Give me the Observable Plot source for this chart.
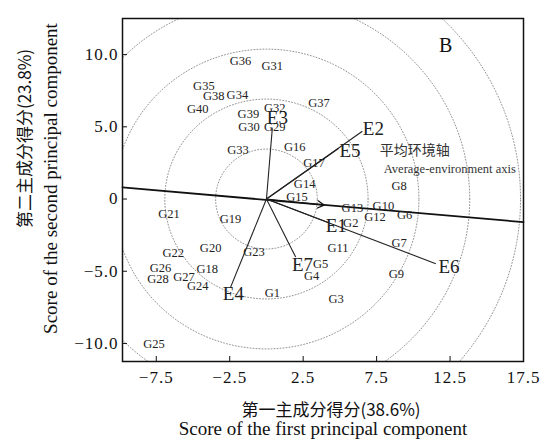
<!DOCTYPE html>
<html><head><meta charset="utf-8">
<script src="https://cdn.jsdelivr.net/npm/d3@7"></script>
<script src="https://cdn.jsdelivr.net/npm/@observablehq/plot@0.6"></script>
<style>
body{margin:0;background:#fff;}
#chart svg{display:block;}
g[aria-label="x-axis tick label"] text, g[aria-label="y-axis tick label"] text {letter-spacing:1px;}
g[aria-label="title-cn"] text {letter-spacing:2px;}
g[aria-label="title-en"] text {letter-spacing:1.2px;}
g[aria-label="axis-name-cn"] text {letter-spacing:1px;}
g[aria-label="axis-name-en"] text {letter-spacing:0.4px;}
</style></head><body><div id="chart"></div>
<script>
const genotypes = ["G1","G2","G3","G4","G5","G6","G7","G8","G9","G10",
  "G11","G12","G13","G14","G15","G16","G17","G18","G19","G20",
  "G21","G22","G23","G24","G25","G26","G27","G28","G29","G30",
  "G31","G32","G33","G34","G35","G36","G37","G38","G39","G40"];
const genoX = [0.40,5.74,4.75,3.08,3.69,9.41,9.03,9.03,8.85,7.96,
  4.87,7.39,5.85,2.60,2.08,1.92,3.24,-4.03,-2.44,-3.80,
  -6.64,-6.34,-0.85,-4.67,-7.66,-7.21,-5.62,-7.39,0.56,-1.19,
  0.40,0.56,-1.94,-1.98,-4.26,-1.76,3.58,-3.58,-1.23,-4.67];
const genoY = [-6.51,-1.67,-6.93,-5.34,-4.48,-1.14,-3.06,0.93,-5.22,-0.45,
  -3.37,-1.21,-0.61,1.05,0.15,3.58,2.48,-4.83,-1.37,-3.37,
  -1.07,-3.72,-3.68,-6.05,-10.01,-4.79,-5.41,-5.52,4.97,4.97,
  9.23,6.30,3.40,7.20,7.85,9.58,6.63,7.11,5.89,6.24];

const envNames = ["E1","E2","E3","E4","E5","E6","E7"];
const envX = [4.2,6.53,0.40,-2.44,4.9,11.53,1.99];
const envY = [-1.62,4.69,4.9,-6.10,3.5,-4.48,-4.02];
const envLabelX = [4.75,7.28,0.74,-2.25,5.69,12.43,2.45];
const envLabelY = [-1.88,4.85,5.6,-6.60,3.35,-4.72,-4.53];

const axisLineX = [-9.8, 17.5];
const axisLineY = [0.8, -1.6];
const arrowX = [0, 3.92];
const arrowY = [0, -0.42];

const circleRadii = [3.46, 6.92, 10.38, 13.84, 17.3];

const xTicks = [-7.5,-2.5,2.5,7.5,12.5,17.5];
const yTicks = [-10,-5,0,5,10];

const panelLabel = "B";
const axisNameCN = "平均环境轴";
const axisNameEN = "Average-environment axis";
const xTitleCN = "第一主成分得分(38.6%)";
const xTitleEN = "Score of the first principal component";
const yTitleCN = "第二主成分得分(23.8%)";
const yTitleEN = "Score of the second principal component";

const genos = genotypes.map((g,i)=>({name:g,x:genoX[i],y:genoY[i]}));
const envs = envNames.map((e,i)=>({name:e,x0:0,y0:0,x:envX[i],y:envY[i],lx:envLabelX[i],ly:envLabelY[i]}));
const axisPts = axisLineX.map((x,i)=>({x,y:axisLineY[i]}));
const arrowData = [{x1:arrowX[0],y1:arrowY[0],x2:arrowX[1],y2:arrowY[1]}];
const circlePts = [];
for (const r of circleRadii) for (let a=0;a<=360;a+=2) circlePts.push({r, x:r*Math.cos(a*Math.PI/180), y:r*Math.sin(a*Math.PI/180)});

const fmt = d => d === 0 ? "0" : (d<0?"\u2212":"") + Math.abs(d).toFixed(1);
const serif = "'Liberation Serif','DejaVu Serif',serif";
const cjk = "'Noto Sans CJK SC',sans-serif";

const plot = Plot.plot({
  width:545, height:439, marginLeft:122, marginRight:22, marginTop:18, marginBottom:78,
  x:{domain:[-9.8,17.5]}, y:{domain:[-11.25,12.5]},
  style:{fontFamily:serif, fontSize:"17px", color:"#111", background:"#fff"},
  marks:[
    Plot.line(circlePts, {x:"x", y:"y", z:"r", stroke:"#888", strokeWidth:0.9, strokeDasharray:"1,2", clip:true}),
    Plot.line(axisPts, {x:"x", y:"y", stroke:"#111", strokeWidth:1.8}),
    Plot.arrow(arrowData, {x1:"x1", y1:"y1", x2:"x2", y2:"y2", stroke:"#111", strokeWidth:1.2, headLength:9}),
    Plot.link(envs, {x1:"x0", y1:"y0", x2:"x", y2:"y", stroke:"#222", strokeWidth:1.1}),
    Plot.text(genos, {x:"x", y:"y", text:"name", fontSize:12.5, fill:"#222", fontFamily:serif}),
    Plot.text(envs, {x:"lx", y:"ly", text:"name", fontSize:19, fill:"#222", fontFamily:serif}),
    Plot.text([panelLabel], {x:()=>12.2, y:()=>10.6, text:d=>d, fontSize:20, fill:"#111"}),
    Plot.text([axisNameCN], {ariaLabel:"axis-name-cn", x:()=>10.1, y:()=>3.35, text:d=>d, fontSize:14, fontFamily:cjk, fill:"#333"}),
    Plot.text([axisNameEN], {ariaLabel:"axis-name-en", x:()=>12.48, y:()=>2.11, text:d=>d, fontSize:12.5, fontFamily:serif, fill:"#333"}),
    Plot.axisX({ticks:xTicks, tickFormat:fmt, tickSize:-5, tickPadding:14, label:null, fontSize:17}),
    Plot.axisY({ticks:yTicks, tickFormat:fmt, tickSize:-5, tickPadding:9, label:null, fontSize:17}),
    Plot.frame({stroke:"#111", strokeWidth:1.5}),
    Plot.text([xTitleCN], {ariaLabel:"title-cn", frameAnchor:"bottom", textAnchor:"middle", lineAnchor:"middle", dx:8, dy:49, text:d=>d, fontSize:17, fontFamily:cjk, fill:"#111"}),
    Plot.text([xTitleEN], {ariaLabel:"title-en", frameAnchor:"bottom", textAnchor:"middle", lineAnchor:"middle", dx:0, dy:67.5, text:d=>d, fontSize:19, fontFamily:serif, fill:"#111"}),
    Plot.text([yTitleCN], {ariaLabel:"title-cn", frameAnchor:"left", textAnchor:"middle", lineAnchor:"middle", dx:-97, dy:-51.5, rotate:-90, text:d=>d, fontSize:17, fontFamily:cjk, fill:"#111"}),
    Plot.text([yTitleEN], {ariaLabel:"title-en", frameAnchor:"left", textAnchor:"middle", lineAnchor:"middle", dx:-72, dy:-11.5, rotate:-90, text:d=>d, fontSize:19, fontFamily:serif, fill:"#111"})
  ]
});
document.getElementById("chart").append(plot);
</script></body></html>
